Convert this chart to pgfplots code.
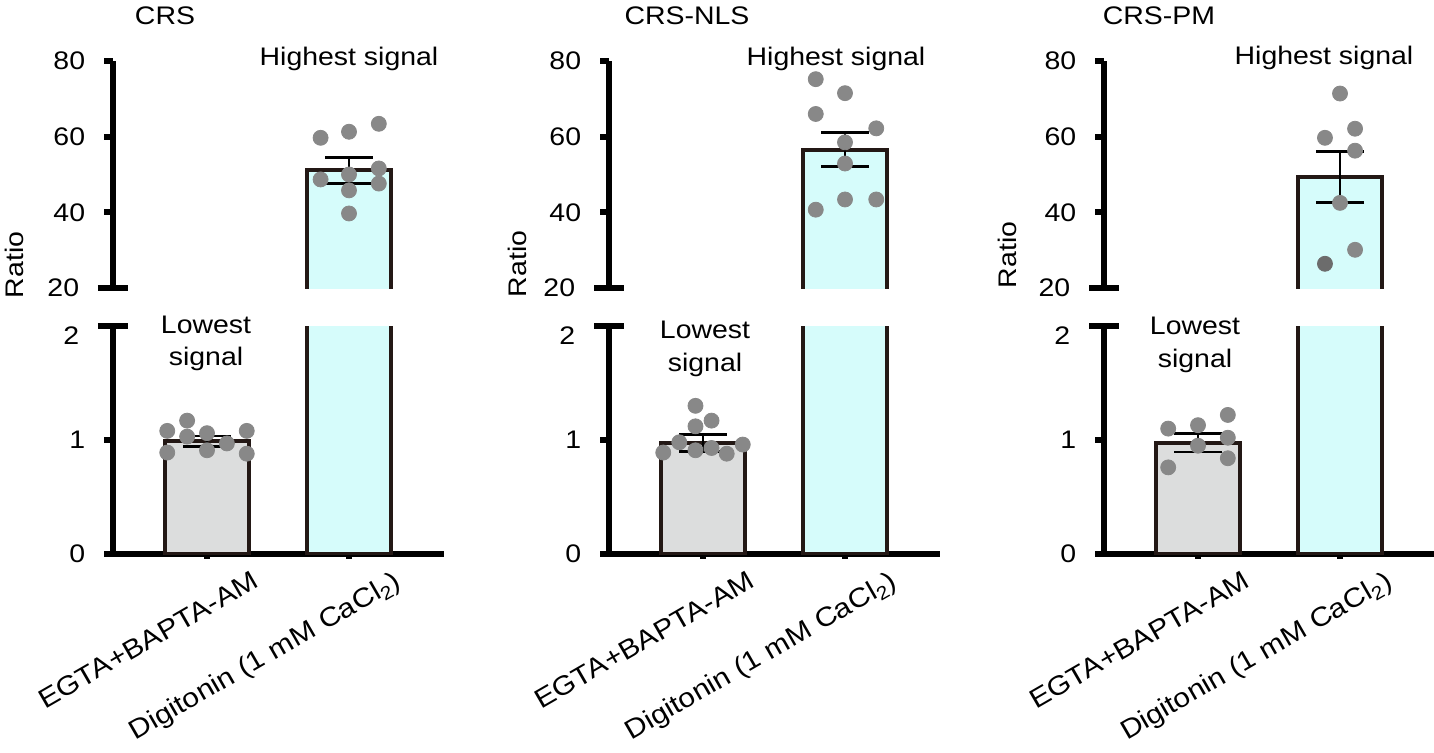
\documentclass[border=0pt]{standalone}
\usepackage{pgfplots}
\pgfplotsset{compat=1.18}
\usepackage{fontspec}
\setmainfont{Liberation Sans}[FakeStretch=1.12]
\definecolor{bargray}{RGB}{220,221,221}
\definecolor{barcyan}{RGB}{214,252,251}
\definecolor{ptgray}{RGB}{136,136,136}
\definecolor{ptdark}{RGB}{108,108,108}
\definecolor{edge}{RGB}{35,24,21}
\newcommand{\lblfont}{\fontsize{12.7}{15}\selectfont}
\newcommand{\xlblfont}{\fontsize{13.4}{16}\selectfont}
\pgfplotsset{
  brkbase/.style={
    scale only axis, width=165.5pt, xmin=-0.662, xmax=1.669,
    axis y line=left,
    every tick/.style={line width=3pt, black},
    tick align=outside, major tick length=4.5pt,
    /pgf/number format/assume math mode=true,
    tick label style={font=\lblfont},
    yticklabel style={xshift=-5pt},
    anchor=south west,
  },
  upper/.style={brkbase, height=113.5pt, ymin=20, ymax=80, ytick={40,60,80}, extra y ticks={20},
     extra y tick style={tick align=center, major tick length=15pt},
     axis x line=none, xtick=\empty,
     axis line style={-, line width=3pt, black}},
  lower/.style={brkbase, height=114pt, ymin=0, ymax=2, ytick={0,1}, extra y ticks={2},
     extra y tick style={tick align=center, major tick length=15pt, yticklabel style={yshift=-5pt}},
     axis x line=bottom, xtick={0,1},
     axis line style={-, line width=3pt, black},
     x axis line style={-, shorten <=-3pt},
     xticklabels={{EGTA+BAPTA-AM}, {\raisebox{-3pt}{Digitonin (1 mM CaCl\textsubscript{2})}\hspace{5.75pt}}},
     xticklabel style={font=\xlblfont, rotate=30, anchor=north east, inner sep=0pt, xshift=16.5pt, yshift=-15.5pt}},
  pts/.style={only marks, mark=*, mark size=3.75pt, mark options={fill=ptgray, draw=ptgray}},
  errb/.style={draw=none, mark=none, forget plot,
     error bars/y dir=both, error bars/y explicit,
     error bars/error bar style={draw=black, line width=1.4pt},
     error bars/error mark options={draw=black, rotate=90, mark size=12pt, line width=1.4pt}},
  cyanup/.style={fill=barcyan, draw=edge, line width=2pt, line join=miter},
  barlow/.style={ybar, bar width=0.5915, draw=edge, line width=2pt},
}
\begin{document}
\lblfont
\begin{tikzpicture}
\fill[white] (0,0) rectangle (717pt,376pt);
\path[use as bounding box] (0,0) rectangle (717pt,376pt);

% ---------------- Panel 1: CRS ----------------
\begin{axis}[upper, at={(56.5pt,232pt)}]
\addplot[cyanup] coordinates {(0.704,0) (0.704,51.1) (1.296,51.1) (1.296,0)};
\addplot[errb] coordinates {(1,51.1) +- (0,3.5)};
\addplot[pts] coordinates {(0.8,59.7) (1,61.3) (1.21,63.4) (0.8,48.7) (1,50.0) (1.21,51.6) (1.21,47.6) (1,45.8) (1,39.7)};
\end{axis}
\begin{axis}[lower, at={(56.5pt,99pt)}]
\addplot[barlow, fill=bargray] coordinates {(0,0.99)};
\addplot[barlow, fill=barcyan] coordinates {(1,51.1)};
\addplot[errb] coordinates {(0,0.99) +- (0,0.045)};
\addplot[pts] coordinates {(-0.28,1.08) (-0.28,0.89) (-0.14,1.17) (-0.14,1.03) (0,1.06) (0,0.91) (0.14,0.97) (0.28,1.08) (0.28,0.88)};
\end{axis}

% ---------------- Panel 2: CRS-NLS ----------------
\begin{axis}[upper, at={(304.5pt,232pt)}]
\addplot[cyanup] coordinates {(0.704,0) (0.704,56.6) (1.296,56.6) (1.296,0)};
\addplot[errb] coordinates {(1,56.6) +- (0,4.5)};
\addplot[pts] coordinates {(0.794,75.2) (1,71.5) (0.794,66.0) (1.22,62.2) (1,58.5) (1,52.9) (0.794,40.7) (1,43.4) (1.22,43.4)};
\end{axis}
\begin{axis}[lower, at={(304.5pt,99pt)}]
\addplot[barlow, fill=bargray] coordinates {(0,0.975)};
\addplot[barlow, fill=barcyan] coordinates {(1,56.6)};
\addplot[errb] coordinates {(0,0.975) +- (0,0.075)};
\addplot[pts] coordinates {(-0.053,1.30) (-0.053,1.12) (0.06,1.17) (-0.167,0.98) (-0.28,0.89) (-0.053,0.91) (0.06,0.93) (0.167,0.88) (0.28,0.96)};
\end{axis}

% ---------------- Panel 3: CRS-PM ----------------
\begin{axis}[upper, at={(552pt,232pt)}]
\addplot[cyanup] coordinates {(0.704,0) (0.704,49.3) (1.296,49.3) (1.296,0)};
\addplot[errb] coordinates {(1,49.3) +- (0,6.8)};
\addplot[pts] coordinates {(1,71.4) (0.894,59.7) (1.106,62.1) (1.106,56.3) (1,42.5) (1.106,30.1)};
\addplot[only marks, mark=*, mark size=3.75pt, mark options={fill=ptdark, draw=ptdark}] coordinates {(0.894,26.4)};
\end{axis}
\begin{axis}[lower, at={(552pt,99pt)}]
\addplot[barlow, fill=bargray] coordinates {(0,0.975)};
\addplot[barlow, fill=barcyan] coordinates {(1,49.3)};
\addplot[errb] coordinates {(0,0.975) +- (0,0.08)};
\addplot[pts] coordinates {(-0.21,1.10) (-0.21,0.76) (0,1.13) (0,0.95) (0.21,1.22) (0.21,1.02) (0.21,0.84)};
\end{axis}

% ---------------- Text ----------------
\node[anchor=base] at (82.5pt,363.5pt) {CRS};
\node[anchor=base] at (343.5pt,363.5pt) {CRS-NLS};
\node[anchor=base] at (579.5pt,363.5pt) {CRS-PM};
\node[anchor=base] at (174.5pt,343.5pt) {Highest signal};
\node[anchor=base] at (418pt,343.5pt) {Highest signal};
\node[anchor=base] at (662pt,344pt) {Highest signal};
\node[anchor=base] at (103pt,209.5pt) {Lowest};
\node[anchor=base] at (103pt,193.5pt) {signal};
\node[anchor=base] at (352.5pt,207pt) {Lowest};
\node[anchor=base] at (352.5pt,190.5pt) {signal};
\node[anchor=base] at (597.5pt,209pt) {Lowest};
\node[anchor=base] at (597.5pt,192.5pt) {signal};
\node[rotate=90] at (7pt,243.5pt) {Ratio};
\node[rotate=90] at (258.5pt,244pt) {Ratio};
\node[rotate=90] at (503.5pt,248.5pt) {Ratio};
\end{tikzpicture}
\end{document}
